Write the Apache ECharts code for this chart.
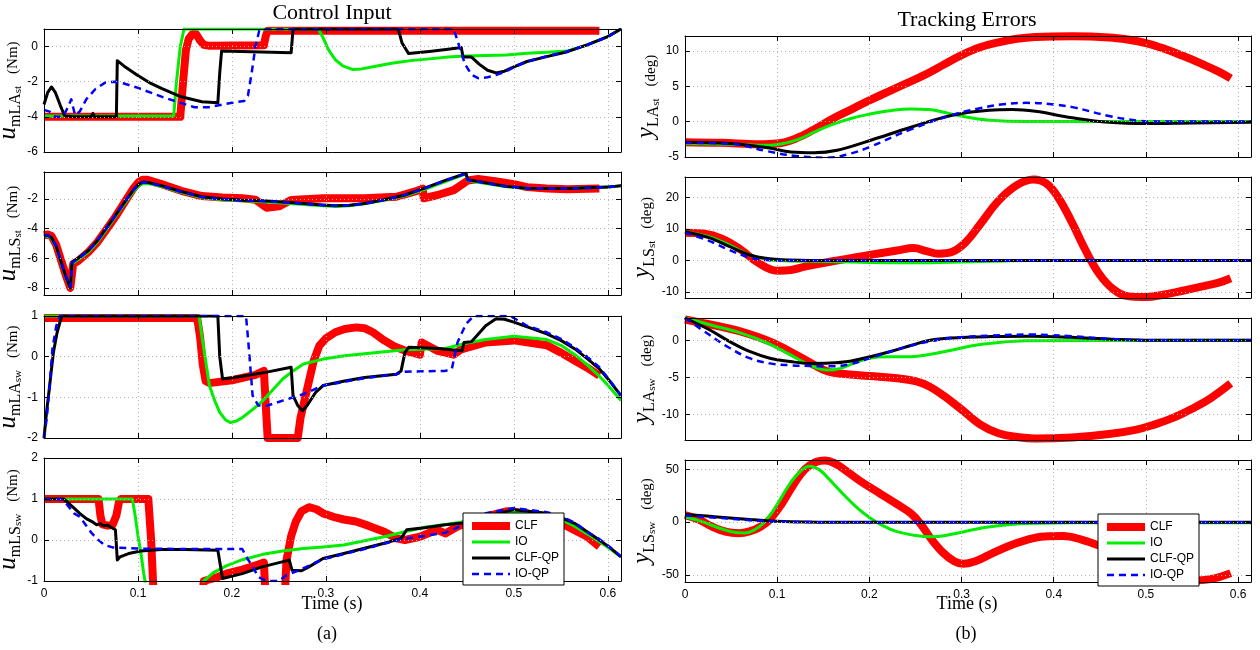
<!DOCTYPE html>
<html><head><meta charset="utf-8">
<script src="https://cdn.jsdelivr.net/npm/echarts@6/dist/echarts.min.js"></script>
<style>html,body{margin:0;padding:0;background:#fff}#c{width:1260px;height:650px}</style>
</head><body><div id="c"></div>
<script>
// ---------------- DATA ----------------
const seriesNames = ['CLF', 'IO', 'CLF-QP', 'IO-QP'];
const xTicks = [0, 0.1, 0.2, 0.3, 0.4, 0.5, 0.6];

// Control input: u_mLA_st (Nm)
const uLAst_CLF = [[0,-4],[0.145,-4],[0.148,-2],[0.151,-0.2],[0.154,0.45],[0.158,0.72],[0.162,0.7],[0.166,0.35],[0.17,0.1],[0.175,0.05],[0.234,0.08],[0.236,0.6],[0.238,0.9],[0.591,0.9]];
const uLAst_IO = [[0,-3.95],[0.138,-3.95],[0.141,-2],[0.145,0],[0.149,1],[0.292,1],[0.297,0.5],[0.303,-0.2],[0.31,-0.75],[0.318,-1.1],[0.328,-1.3],[0.338,-1.27],[0.35,-1.15],[0.37,-0.95],[0.39,-0.8],[0.41,-0.7],[0.43,-0.6],[0.449,-0.53],[0.492,-0.48],[0.514,-0.38],[0.535,-0.32],[0.557,-0.25],[0.578,0.1],[0.6,0.57],[0.614,1]];
const uLAst_CLFQP = [[0,-3.3],[0.004,-2.6],[0.008,-2.3],[0.012,-2.6],[0.017,-3.3],[0.022,-3.95],[0.03,-4.0],[0.05,-4.0],[0.052,-3.8],[0.054,-4.0],[0.077,-4.0],[0.078,-0.8],[0.085,-1.1],[0.099,-1.62],[0.112,-2.05],[0.125,-2.38],[0.146,-2.86],[0.168,-3.14],[0.185,-3.2],[0.187,-1.5],[0.189,-0.25],[0.263,-0.35],[0.265,1],[0.377,1],[0.381,0.2],[0.388,-0.4],[0.41,-0.28],[0.43,-0.15],[0.444,-0.05],[0.446,-0.6],[0.455,-0.6],[0.463,-1.0],[0.472,-1.35],[0.481,-1.5],[0.49,-1.4],[0.5,-1.15],[0.514,-0.85],[0.535,-0.57],[0.557,-0.29],[0.578,0.1],[0.6,0.57],[0.614,1]];
const uLAst_IOQP = [[0,-3.6],[0.006,-3.7],[0.012,-4.0],[0.02,-4.0],[0.026,-3.4],[0.029,-3.0],[0.033,-3.9],[0.038,-3.7],[0.045,-3.0],[0.055,-2.4],[0.065,-2.05],[0.075,-2.0],[0.085,-2.1],[0.1,-2.35],[0.125,-2.85],[0.145,-3.2],[0.16,-3.45],[0.175,-3.45],[0.19,-3.3],[0.205,-3.15],[0.213,-3.1],[0.217,-2.8],[0.221,-1.5],[0.225,0],[0.229,0.9],[0.232,1],[0.436,1],[0.442,0],[0.448,-1.0],[0.455,-1.6],[0.462,-1.8],[0.472,-1.75],[0.482,-1.6],[0.492,-1.4],[0.503,-1.1],[0.514,-0.85],[0.535,-0.55],[0.557,-0.28],[0.578,0.1],[0.6,0.55],[0.614,1]];

// Control input: u_mLS_st (Nm)
const uLSst_CLF = [[0,-4.45],[0.004,-4.4],[0.008,-4.5],[0.013,-5.1],[0.018,-6.1],[0.023,-7.1],[0.028,-8.0],[0.0295,-8.1],[0.031,-6.4],[0.036,-6.2],[0.047,-5.6],[0.057,-4.9],[0.066,-4.1],[0.076,-3.2],[0.086,-2.2],[0.095,-1.3],[0.101,-0.85],[0.105,-0.7],[0.11,-0.7],[0.125,-1.0],[0.146,-1.45],[0.168,-1.8],[0.19,-1.9],[0.211,-1.95],[0.225,-2.05],[0.237,-2.6],[0.25,-2.5],[0.263,-2.07],[0.297,-1.95],[0.341,-1.95],[0.375,-1.85],[0.397,-1.45],[0.403,-1.3],[0.404,-1.95],[0.418,-1.75],[0.436,-1.4],[0.451,-0.75],[0.462,-0.65],[0.48,-0.8],[0.5,-1.0],[0.514,-1.2],[0.535,-1.3],[0.557,-1.35],[0.591,-1.3]];
const uLSst_IO = [[0,-4.55],[0.004,-4.5],[0.008,-4.65],[0.013,-5.25],[0.018,-6.25],[0.023,-7.25],[0.028,-8.0],[0.0295,-7.95],[0.030,-6.35],[0.035,-6.15],[0.047,-5.6],[0.057,-4.9],[0.066,-4.1],[0.076,-3.2],[0.086,-2.3],[0.095,-1.5],[0.101,-1.1],[0.106,-0.95],[0.112,-0.98],[0.125,-1.15],[0.146,-1.55],[0.168,-1.9],[0.19,-2.05],[0.211,-2.12],[0.233,-2.18],[0.254,-2.28],[0.276,-2.38],[0.297,-2.45],[0.31,-2.5],[0.325,-2.46],[0.341,-2.33],[0.362,-2.08],[0.384,-1.78],[0.405,-1.35],[0.427,-0.82],[0.449,-0.3],[0.451,-0.75],[0.47,-0.95],[0.492,-1.18],[0.514,-1.28],[0.557,-1.3],[0.6,-1.2],[0.614,-1.12]];
const uLSst_CLFQP = [[0,-4.5],[0.004,-4.45],[0.008,-4.6],[0.013,-5.2],[0.018,-6.2],[0.023,-7.2],[0.028,-8.0],[0.0295,-7.9],[0.030,-6.25],[0.035,-6.05],[0.047,-5.5],[0.057,-4.8],[0.066,-4.0],[0.076,-3.1],[0.086,-2.2],[0.095,-1.4],[0.101,-1.0],[0.106,-0.85],[0.112,-0.9],[0.125,-1.1],[0.146,-1.5],[0.168,-1.85],[0.19,-2.0],[0.211,-2.08],[0.233,-2.12],[0.254,-2.2],[0.276,-2.3],[0.297,-2.4],[0.31,-2.45],[0.325,-2.42],[0.341,-2.3],[0.362,-2.05],[0.384,-1.73],[0.405,-1.27],[0.427,-0.75],[0.449,-0.27],[0.451,-0.7],[0.47,-0.9],[0.492,-1.15],[0.514,-1.27],[0.557,-1.3],[0.6,-1.2],[0.614,-1.1]];
const uLSst_IOQP = [[0,-4.5],[0.004,-4.45],[0.008,-4.6],[0.013,-5.2],[0.018,-6.2],[0.023,-7.2],[0.028,-7.95],[0.0295,-7.9],[0.030,-6.3],[0.035,-6.1],[0.047,-5.5],[0.057,-4.8],[0.066,-4.0],[0.076,-3.1],[0.086,-2.2],[0.095,-1.4],[0.101,-1.0],[0.106,-0.87],[0.112,-0.92],[0.125,-1.12],[0.146,-1.52],[0.168,-1.87],[0.19,-2.02],[0.211,-2.1],[0.233,-2.14],[0.254,-2.22],[0.276,-2.32],[0.297,-2.42],[0.31,-2.46],[0.325,-2.43],[0.341,-2.31],[0.362,-2.06],[0.384,-1.74],[0.405,-1.28],[0.427,-0.76],[0.449,-0.28],[0.451,-0.72],[0.47,-0.92],[0.492,-1.16],[0.514,-1.27],[0.557,-1.3],[0.6,-1.2],[0.614,-1.1]];

// Control input: u_mLA_sw (Nm)
const uLAsw_CLF = [[0,0.95],[0.163,0.95],[0.166,0.5],[0.169,-0.2],[0.172,-0.6],[0.176,-0.65],[0.2,-0.58],[0.225,-0.45],[0.234,-0.35],[0.236,-1.2],[0.238,-2.0],[0.27,-2.0],[0.273,-1.5],[0.28,-0.8],[0.287,-0.1],[0.293,0.27],[0.3,0.45],[0.31,0.6],[0.32,0.68],[0.332,0.72],[0.341,0.7],[0.35,0.6],[0.362,0.4],[0.373,0.25],[0.384,0.15],[0.4,0.05],[0.402,0.35],[0.418,0.15],[0.436,0.05],[0.444,0.18],[0.47,0.35],[0.5,0.4],[0.535,0.28],[0.55,0.1],[0.565,-0.1],[0.578,-0.27],[0.591,-0.47]];
const uLAsw_IO = [[0,1],[0.165,1],[0.168,0.5],[0.172,-0.1],[0.176,-0.71],[0.182,-1.1],[0.187,-1.37],[0.193,-1.55],[0.198,-1.62],[0.205,-1.58],[0.211,-1.5],[0.222,-1.3],[0.233,-1.08],[0.244,-0.8],[0.254,-0.55],[0.265,-0.35],[0.276,-0.18],[0.297,-0.06],[0.32,0.02],[0.341,0.07],[0.384,0.17],[0.427,0.2],[0.449,0.33],[0.47,0.42],[0.5,0.5],[0.535,0.42],[0.55,0.28],[0.565,0.05],[0.578,-0.2],[0.591,-0.48],[0.6,-0.7],[0.614,-1.08]];
const uLAsw_CLFQP = [[0,-2],[0.003,-1.3],[0.0056,-0.8],[0.008,-0.3],[0.01,0.1],[0.014,0.6],[0.017,0.85],[0.019,1],[0.185,1],[0.187,0],[0.19,-0.55],[0.2,-0.52],[0.211,-0.48],[0.237,-0.38],[0.263,-0.26],[0.265,-0.96],[0.27,-1.2],[0.275,-1.33],[0.28,-1.2],[0.289,-0.88],[0.297,-0.71],[0.32,-0.6],[0.341,-0.51],[0.375,-0.43],[0.38,-0.35],[0.384,0.1],[0.388,0.23],[0.42,0.2],[0.441,0.15],[0.445,0.15],[0.447,0.35],[0.455,0.37],[0.462,0.55],[0.47,0.76],[0.481,0.93],[0.49,0.92],[0.5,0.85],[0.518,0.7],[0.535,0.56],[0.55,0.4],[0.565,0.19],[0.578,-0.05],[0.591,-0.3],[0.602,-0.6],[0.614,-0.96]];
const uLAsw_IOQP = [[0,-2],[0.003,-1.5],[0.006,-0.7],[0.009,0.2],[0.013,0.75],[0.017,1],[0.215,1],[0.218,0.2],[0.222,-0.96],[0.228,-1.2],[0.237,-1.21],[0.254,-1.08],[0.276,-0.92],[0.297,-0.71],[0.341,-0.53],[0.375,-0.43],[0.384,-0.37],[0.427,-0.35],[0.434,-0.3],[0.44,0.35],[0.449,0.8],[0.457,1],[0.496,1],[0.5,0.95],[0.514,0.76],[0.535,0.6],[0.55,0.44],[0.565,0.22],[0.578,0],[0.591,-0.26],[0.602,-0.58],[0.614,-0.96]];

// Control input: u_mLS_sw (Nm)
const uLSsw_CLF = [[0,1.0],[0.058,1.0],[0.06,0.6],[0.062,0.38],[0.068,0.35],[0.073,0.37],[0.077,0.6],[0.08,0.95],[0.082,1.0],[0.111,1.0],[0.114,0],[0.117,-1.5],[0.168,-1.5],[0.17,-1.0],[0.183,-0.92],[0.194,-0.82],[0.211,-0.72],[0.228,-0.6],[0.234,-0.55],[0.236,-1.5],[0.256,-1.5],[0.258,-0.5],[0.263,0.1],[0.268,0.45],[0.274,0.7],[0.282,0.8],[0.29,0.75],[0.297,0.65],[0.31,0.55],[0.319,0.5],[0.332,0.45],[0.345,0.35],[0.362,0.2],[0.375,0.04],[0.384,0],[0.4,0.08],[0.418,0.25],[0.427,0.16],[0.44,0.33],[0.47,0.57],[0.492,0.7],[0.514,0.65],[0.535,0.57],[0.557,0.33],[0.578,0.08],[0.591,-0.16]];
const uLSsw_IO = [[0,1],[0.094,1],[0.097,0.6],[0.1,0.1],[0.103,-0.3],[0.106,-0.8],[0.109,-1.2],[0.168,-1.2],[0.17,-1],[0.18,-0.8],[0.194,-0.63],[0.211,-0.48],[0.233,-0.35],[0.254,-0.27],[0.276,-0.21],[0.297,-0.17],[0.319,-0.12],[0.341,-0.02],[0.362,0.08],[0.384,0.2],[0.405,0.31],[0.427,0.38],[0.449,0.45],[0.47,0.57],[0.5,0.7],[0.535,0.62],[0.55,0.5],[0.565,0.33],[0.578,0.15],[0.591,-0.04],[0.6,-0.18],[0.614,-0.41]];
const uLSsw_CLFQP = [[0,1],[0.021,1],[0.03,0.82],[0.038,0.65],[0.045,0.52],[0.051,0.45],[0.056,0.37],[0.06,0.4],[0.063,0.35],[0.068,0.36],[0.072,0.3],[0.076,0.25],[0.078,-0.49],[0.081,-0.41],[0.09,-0.33],[0.103,-0.27],[0.125,-0.23],[0.15,-0.23],[0.185,-0.25],[0.19,-0.94],[0.192,-0.94],[0.211,-0.82],[0.233,-0.65],[0.261,-0.49],[0.264,-0.74],[0.274,-0.75],[0.28,-0.68],[0.297,-0.45],[0.319,-0.33],[0.341,-0.2],[0.362,-0.08],[0.38,0.04],[0.386,0.25],[0.405,0.3],[0.427,0.37],[0.449,0.42],[0.47,0.57],[0.5,0.74],[0.535,0.65],[0.55,0.55],[0.565,0.4],[0.578,0.2],[0.591,0],[0.602,-0.18],[0.614,-0.41]];
const uLSsw_IOQP = [[0,1],[0.018,1],[0.025,0.85],[0.032,0.65],[0.038,0.57],[0.045,0.35],[0.051,0.16],[0.058,0],[0.064,-0.12],[0.073,-0.18],[0.1,-0.21],[0.15,-0.22],[0.211,-0.22],[0.215,-0.4],[0.222,-0.65],[0.228,-0.9],[0.237,-1.0],[0.25,-1.0],[0.258,-0.86],[0.27,-0.75],[0.297,-0.47],[0.341,-0.22],[0.38,0.02],[0.405,0.1],[0.427,0.18],[0.44,0.3],[0.449,0.5],[0.47,0.65],[0.5,0.78],[0.535,0.68],[0.55,0.58],[0.565,0.42],[0.578,0.2],[0.591,0.02],[0.602,-0.17],[0.614,-0.4]];

// Tracking errors: y_LA_st (deg)
const yLAst_CLF = [[0,-2.9],[0.04,-3.0],[0.08,-3.2],[0.1,-3.1],[0.12,-2.4],[0.14,-1.1],[0.16,0.4],[0.18,1.7],[0.2,3.0],[0.22,4.2],[0.24,5.4],[0.26,6.6],[0.28,8.0],[0.3,9.4],[0.32,10.5],[0.34,11.2],[0.36,11.7],[0.38,11.95],[0.42,12.05],[0.46,11.9],[0.48,11.6],[0.5,11.1],[0.52,10.3],[0.54,9.3],[0.56,8.2],[0.58,7.0],[0.592,6.1]];
const yLAst_IO = [[0,-3.1],[0.05,-3.2],[0.09,-3.35],[0.11,-3.0],[0.125,-2.4],[0.14,-1.5],[0.16,-0.4],[0.18,0.45],[0.2,1.05],[0.22,1.5],[0.245,1.8],[0.265,1.7],[0.285,1.2],[0.305,0.65],[0.33,0.2],[0.37,0],[0.614,0]];
const yLAst_CLFQP = [[0,-2.9],[0.05,-3.1],[0.09,-3.7],[0.115,-4.3],[0.14,-4.4],[0.165,-4.05],[0.2,-2.7],[0.245,-0.8],[0.29,0.9],[0.33,1.6],[0.355,1.7],[0.38,1.45],[0.42,0.55],[0.46,-0.1],[0.5,-0.28],[0.55,-0.2],[0.614,-0.1]];
const yLAst_IOQP = [[0,-3.0],[0.05,-3.15],[0.09,-4.2],[0.12,-4.85],[0.155,-5.1],[0.18,-4.5],[0.2,-3.6],[0.245,-1.1],[0.29,0.95],[0.32,1.9],[0.345,2.45],[0.37,2.65],[0.395,2.5],[0.42,2.05],[0.46,0.8],[0.49,0.15],[0.51,0],[0.614,0]];

// Tracking errors: y_LS_st (deg)
const yLSst_CLF = [[0,8.9],[0.02,8.6],[0.04,7.0],[0.06,3.6],[0.08,-0.8],[0.1,-3.2],[0.115,-3.0],[0.13,-1.9],[0.16,-0.2],[0.2,1.8],[0.23,3.2],[0.248,4.0],[0.262,3.0],[0.275,2.2],[0.29,2.8],[0.305,6.0],[0.32,11.5],[0.34,19.0],[0.36,24.0],[0.378,25.8],[0.392,24.5],[0.405,20],[0.42,12],[0.435,3],[0.45,-4.5],[0.465,-9.2],[0.48,-11.3],[0.5,-11.6],[0.52,-10.8],[0.54,-9.6],[0.56,-8.3],[0.58,-6.9],[0.592,-5.6]];
const yLSst_IO = [[0,9.2],[0.026,7.6],[0.048,5.0],[0.07,1.8],[0.092,0.2],[0.114,-0.1],[0.157,-0.3],[0.201,-0.6],[0.245,-0.7],[0.288,-0.5],[0.332,-0.2],[0.376,0],[0.614,0]];
const yLSst_CLFQP = [[0,9.2],[0.026,7.3],[0.048,4.5],[0.07,1.8],[0.092,0.6],[0.114,0.2],[0.157,0],[0.614,0]];
const yLSst_IOQP = [[0,8.9],[0.026,6.3],[0.048,3.4],[0.07,1.0],[0.087,0.2],[0.114,0],[0.614,0]];

// Tracking errors: y_LA_sw (deg)
const yLAsw_CLF = [[0,2.8],[0.02,2.3],[0.04,1.8],[0.06,1.2],[0.08,0.4],[0.1,-0.6],[0.12,-1.9],[0.14,-3.3],[0.155,-4.2],[0.17,-4.5],[0.2,-4.8],[0.23,-5.1],[0.25,-5.5],[0.265,-6.2],[0.28,-7.4],[0.3,-9.3],[0.32,-11.3],[0.34,-12.5],[0.36,-13.0],[0.38,-13.2],[0.42,-13.05],[0.46,-12.6],[0.49,-12.0],[0.51,-11.3],[0.53,-10.4],[0.55,-9.2],[0.57,-7.8],[0.592,-5.8]];
const yLAsw_IO = [[0,3.0],[0.03,2.0],[0.06,1.0],[0.09,-0.4],[0.115,-2.0],[0.135,-3.3],[0.155,-4.0],[0.168,-3.8],[0.185,-3.0],[0.2,-2.4],[0.22,-2.2],[0.245,-2.2],[0.265,-1.9],[0.29,-1.3],[0.31,-0.75],[0.335,-0.35],[0.37,-0.05],[0.614,0]];
const yLAsw_CLFQP = [[0,3.0],[0.026,1.45],[0.048,-0.14],[0.07,-1.5],[0.092,-2.4],[0.114,-2.85],[0.135,-3.1],[0.157,-3.05],[0.179,-2.8],[0.201,-2.2],[0.223,-1.5],[0.245,-0.7],[0.266,0],[0.288,0.3],[0.332,0.5],[0.376,0.55],[0.419,0.4],[0.463,0.14],[0.507,0],[0.614,0]];
const yLAsw_IOQP = [[0,3.0],[0.026,0.77],[0.048,-1.0],[0.07,-2.4],[0.092,-3.1],[0.114,-3.35],[0.135,-3.45],[0.157,-3.5],[0.179,-3.2],[0.201,-2.4],[0.223,-1.5],[0.245,-0.7],[0.266,-0.15],[0.288,0.3],[0.332,0.63],[0.376,0.77],[0.419,0.55],[0.463,0.18],[0.507,0],[0.614,0]];

// Tracking errors: y_LS_sw (deg)
const yLSsw_CLF = [[0,6.7],[0.015,2.5],[0.03,-4.5],[0.045,-9.3],[0.058,-10.4],[0.07,-8.8],[0.082,-4.4],[0.092,2.5],[0.105,17.5],[0.118,36],[0.13,50],[0.142,57],[0.152,58.5],[0.162,56],[0.175,48.5],[0.19,39],[0.21,28],[0.23,17],[0.245,8.3],[0.255,-1],[0.268,-17],[0.28,-29],[0.292,-37],[0.302,-39.5],[0.315,-37],[0.33,-31],[0.35,-23],[0.37,-17],[0.39,-13.5],[0.41,-13.2],[0.43,-16.5],[0.45,-22.5],[0.47,-30.5],[0.49,-39.5],[0.51,-47.5],[0.53,-53],[0.55,-55.2],[0.57,-54],[0.592,-48.3]];
const yLSsw_IO = [[0,5.1],[0.02,0],[0.04,-6.5],[0.055,-9.8],[0.065,-10.2],[0.075,-7.5],[0.085,-1],[0.095,10],[0.105,24],[0.115,38],[0.125,48],[0.135,53],[0.145,50],[0.155,42],[0.17,28],[0.185,15],[0.2,4.5],[0.215,-3.5],[0.23,-9],[0.25,-12.6],[0.268,-13.8],[0.285,-12.2],[0.305,-8.6],[0.325,-5],[0.35,-2.4],[0.38,-1.1],[0.42,-0.6],[0.614,-0.6]];
const yLSsw_CLFQP = [[0,7.3],[0.035,5.0],[0.07,2.5],[0.1,0.8],[0.13,0.1],[0.16,0],[0.614,0]];
const yLSsw_IOQP = [[0,6.3],[0.035,4.2],[0.07,1.9],[0.1,0.6],[0.13,0.1],[0.16,0],[0.614,0]];

// ---------------- LAYOUT / STYLE ----------------
const XMAX = 0.614;
const LCOL = {left: 44, width: 577};
const RCOL = {left: 685, width: 566};
const panels = [
  {col: LCOL, top: 29, height: 123, yMin: -6, yMax: 1, step: 2, sym: 'u', sub: 'mLA', subsub: 'st', unit: 'Nm', smooth: false, data: [uLAst_CLF, uLAst_IO, uLAst_CLFQP, uLAst_IOQP]},
  {col: LCOL, top: 172, height: 123, yMin: -8.48, yMax: -0.18, step: 2, sym: 'u', sub: 'mLS', subsub: 'st', unit: 'Nm', smooth: false, data: [uLSst_CLF, uLSst_IO, uLSst_CLFQP, uLSst_IOQP]},
  {col: LCOL, top: 316, height: 122, yMin: -2, yMax: 1, step: 1, sym: 'u', sub: 'mLA', subsub: 'sw', unit: 'Nm', smooth: false, data: [uLAsw_CLF, uLAsw_IO, uLAsw_CLFQP, uLAsw_IOQP]},
  {col: LCOL, top: 458, height: 123, yMin: -1, yMax: 2, step: 1, sym: 'u', sub: 'mLS', subsub: 'sw', unit: 'Nm', smooth: false, last: true, data: [uLSsw_CLF, uLSsw_IO, uLSsw_CLFQP, uLSsw_IOQP]},
  {col: RCOL, top: 36, height: 121, yMin: -5, yMax: 12.1, step: 5, sym: 'y', sub: 'LA', subsub: 'st', unit: 'deg', smooth: true, data: [yLAst_CLF, yLAst_IO, yLAst_CLFQP, yLAst_IOQP]},
  {col: RCOL, top: 177, height: 121, yMin: -11.9, yMax: 26.6, step: 10, sym: 'y', sub: 'LS', subsub: 'st', unit: 'deg', smooth: true, data: [yLSst_CLF, yLSst_IO, yLSst_CLFQP, yLSst_IOQP]},
  {col: RCOL, top: 318, height: 122, yMin: -13.4, yMax: 3.0, step: 5, sym: 'y', sub: 'LA', subsub: 'sw', unit: 'deg', smooth: true, data: [yLAsw_CLF, yLAsw_IO, yLAsw_CLFQP, yLAsw_IOQP]},
  {col: RCOL, top: 460, height: 122, yMin: -56.7, yMax: 58.9, step: 50, sym: 'y', sub: 'LS', subsub: 'sw', unit: 'deg', smooth: true, last: true, data: [yLSsw_CLF, yLSsw_IO, yLSsw_CLFQP, yLSsw_IOQP]}
];
const styles = [
  {color: '#ff0000', width: 8, type: 'solid'},
  {color: '#00ee00', width: 3, type: 'solid'},
  {color: '#000000', width: 3, type: 'solid'},
  {color: '#0000ff', width: 2.5, type: [7, 5]}
];
const SERIF = 'Liberation Serif';
const SANS = 'Liberation Sans';
const gridLine = {show: true, lineStyle: {color: '#b4b4b4', width: 1, type: [1, 3]}};
const tickStyle = {show: true, inside: true, length: 5, lineStyle: {color: '#000', width: 1}};
const lineAxis = {show: true, onZero: false, lineStyle: {color: '#000', width: 1}};

function isMultiple(v, step) {
  const r = v / step;
  return Math.abs(r - Math.round(r)) < 1e-6;
}

const grids = [], xAxes = [], yAxes = [], series = [];
panels.forEach((p, i) => {
  grids.push({left: p.col.left, top: p.top, width: p.col.width, height: p.height, show: false,
    containLabel: false, outerBoundsMode: 'none'});
  xAxes.push({
    gridIndex: i, type: 'value', position: 'bottom', min: 0, max: XMAX,
    minInterval: 0.1, maxInterval: 0.1, z: 3,
    axisLine: lineAxis, axisTick: tickStyle, splitLine: gridLine,
    axisLabel: {show: !!p.last, color: '#000', fontFamily: SANS, fontSize: 12, margin: 7,
      formatter: v => {
        const t = xTicks.find(x => Math.abs(x - v) < 1e-6);
        return t === undefined ? '' : String(t);
      }}
  });
  xAxes.push({
    gridIndex: i, type: 'value', position: 'top', min: 0, max: XMAX,
    minInterval: 0.1, maxInterval: 0.1, z: 3,
    axisLine: lineAxis, axisTick: tickStyle, splitLine: {show: false}, axisLabel: {show: false}
  });
  yAxes.push({
    gridIndex: i, type: 'value', position: 'left', min: p.yMin, max: p.yMax,
    minInterval: p.step, maxInterval: p.step, splitNumber: 4, z: 3,
    axisLine: lineAxis, axisTick: tickStyle, splitLine: gridLine,
    axisLabel: {color: '#000', fontFamily: SANS, fontSize: 12, margin: 6,
      formatter: v => isMultiple(v, p.step) ? String(Math.round(v / p.step) * p.step) : ''},
    name: `{v|${p.sym}}{m|${p.sub}}{s|${p.subsub}}{g| }{n|(${p.unit})}`,
    nameLocation: 'middle', nameRotate: 90, nameGap: 20,
    nameTextStyle: {
      color: '#000',
      rich: {
        v: {fontFamily: SERIF, fontStyle: 'italic', fontSize: 25, color: '#000', verticalAlign: 'bottom', padding: [0, 0, 3, 0]},
        m: {fontFamily: SERIF, fontSize: 16, color: '#000', verticalAlign: 'bottom', padding: [0, 0, 0, 0]},
        s: {fontFamily: SERIF, fontSize: 11, color: '#000', verticalAlign: 'bottom', padding: [0, 0, 0, 0]},
        g: {fontSize: 10, width: 12},
        n: {fontFamily: SERIF, fontSize: 15, color: '#000', verticalAlign: 'bottom', padding: [0, 0, 3, 0]}
      }
    }
  });
  yAxes.push({
    gridIndex: i, type: 'value', position: 'right', min: p.yMin, max: p.yMax,
    minInterval: p.step, maxInterval: p.step, splitNumber: 4, z: 3,
    axisLine: lineAxis, axisTick: tickStyle, splitLine: {show: false}, axisLabel: {show: false}
  });
  p.data.forEach((d, k) => {
    const s = styles[k];
    series.push({
      type: 'line', name: seriesNames[k], xAxisIndex: 2 * i, yAxisIndex: 2 * i, data: d,
      symbol: 'none', showSymbol: false, smooth: p.smooth ? 0.4 : false, clip: true,
      lineStyle: {color: s.color, width: s.width, type: s.type, join: 'round', cap: 'butt'},
      itemStyle: {color: s.color}, z: 2, zlevel: 0, emphasis: {disabled: true}
    });
  });
});

const legendBase = {
  data: seriesNames, orient: 'vertical', selectedMode: false, z: 20,
  backgroundColor: '#fff', borderColor: '#000', borderWidth: 1, borderRadius: 0,
  padding: [7, 5, 5, 5], itemGap: 4, itemWidth: 38, itemHeight: 12,
  itemStyle: {opacity: 0, borderWidth: 0},
  lineStyle: {width: 'inherit', type: 'inherit', color: 'inherit'},
  textStyle: {color: '#000', fontFamily: SANS, fontSize: 12}
};

const texts = [
  {t: 'Control Input', x: 332, y: 13, size: 22},
  {t: 'Tracking Errors', x: 967, y: 20, size: 22},
  {t: 'Time (s)', x: 332, y: 604, size: 18},
  {t: 'Time (s)', x: 967, y: 604, size: 18},
  {t: '(a)', x: 327, y: 634, size: 18},
  {t: '(b)', x: 966, y: 634, size: 18}
];

const chart = echarts.init(document.getElementById('c'), null, {renderer: 'canvas', width: 1260, height: 650});
chart.setOption({
  animation: false,
  backgroundColor: '#fff',
  grid: grids, xAxis: xAxes, yAxis: yAxes, series: series,
  legend: [
    Object.assign({}, legendBase, {left: 463, top: 513}),
    Object.assign({}, legendBase, {left: 1098, top: 514})
  ],
  graphic: texts.map(o => ({
    type: 'text', x: o.x, y: o.y, z: 10,
    style: {text: o.t, fontFamily: SERIF, fontSize: o.size, fill: '#000', align: 'center', verticalAlign: 'middle'}
  }))
});
</script>
</body></html>
